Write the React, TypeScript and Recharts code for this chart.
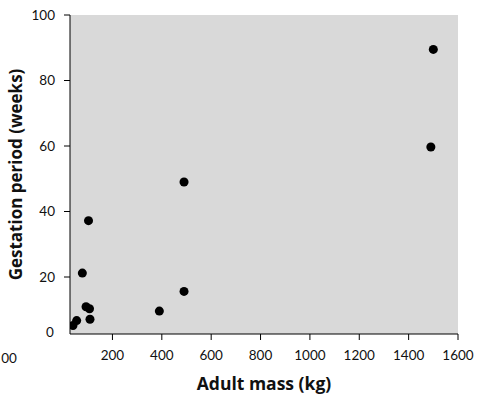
import { ScatterChart, Scatter, XAxis, YAxis, CartesianGrid, Customized } from "recharts";

const adultMass = [1500, 1490, 490, 490, 390, 103, 78, 93, 107, 109, 55, 40];
const gestationWeeks = [89.5, 59.7, 49, 15.6, 9.6, 37.2, 21.2, 10.9, 10.3, 7.1, 6.7, 5.2];
const xTicks = [200, 400, 600, 800, 1000, 1200, 1400, 1600];
const yTicks = [20, 40, 60, 80, 100];

const data = adultMass.map((m, i) => ({ mass: m, weeks: gestationWeeks[i] }));

const FONT = "Lato, 'Open Sans', sans-serif";
const TITLE_FONT = "'Open Sans', Lato, sans-serif";

const StrayLabels = () => (
  <g fontFamily={FONT} fontSize={13.5} fill="#111">
    <text x={9} y={363} textAnchor="middle">00</text>
    <text x={50} y={337} textAnchor="middle">0</text>
  </g>
);

export default function App() {
  return (
    <div style={{ position: "absolute", left: 0, top: 0 }}>
      <ScatterChart
        width={484}
        height={396}
        margin={{ top: 15, right: 26, bottom: 0, left: 0 }}
      >
        <CartesianGrid fill="#d9d9d9" horizontal={false} vertical={false} />
        <XAxis
          type="number"
          dataKey="mass"
          domain={[28, 1600]}
          ticks={xTicks}
          interval={0}
          height={62}
          allowDataOverflow
          stroke="#000"
          tickSize={6}
          tickMargin={10}
          tick={{ fill: "#111", fontSize: 13.5, fontFamily: FONT }}
          label={{
            value: "Adult mass (kg)",
            position: "insideBottom",
            offset: 6,
            style: { fontFamily: TITLE_FONT, fontWeight: 700, fontSize: 17.5, fill: "#111" },
          }}
        />
        <YAxis
          type="number"
          dataKey="weeks"
          domain={[2.6, 100]}
          ticks={yTicks}
          interval={0}
          width={70}
          allowDataOverflow
          stroke="#000"
          tickSize={6}
          tickMargin={9}
          tick={{ fill: "#111", fontSize: 13.5, fontFamily: FONT }}
          label={{
            value: "Gestation period (weeks)",
            angle: -90,
            position: "insideLeft",
            offset: 16,
            style: { textAnchor: "middle", fontFamily: TITLE_FONT, fontWeight: 700, fontSize: 17, fill: "#111" },
          }}
        />
        <Scatter data={data} fill="#000" shape="circle" isAnimationActive={false} />
        <Customized component={StrayLabels} />
      </ScatterChart>
    </div>
  );
}
